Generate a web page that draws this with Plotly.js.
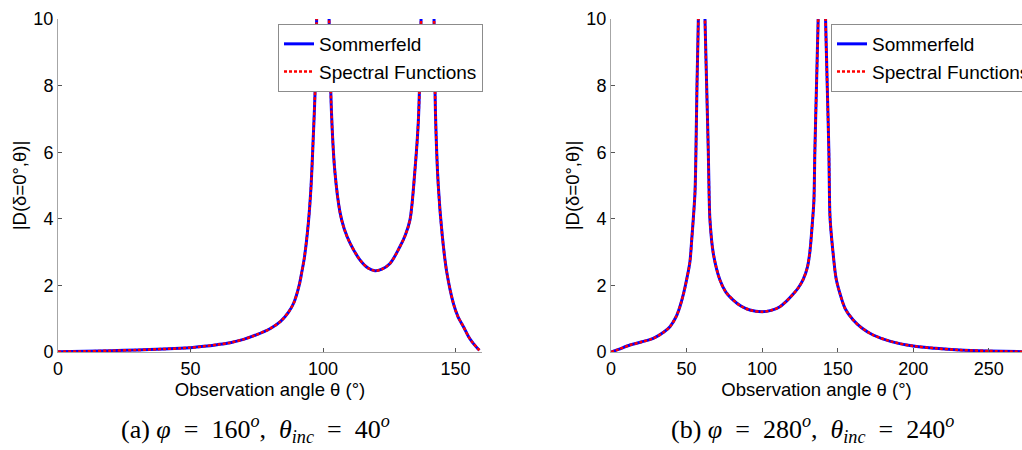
<!DOCTYPE html>
<html>
<head>
<meta charset="utf-8">
<script src="https://cdn.plot.ly/plotly-3.0.1.min.js"></script>
<style>
  html, body { margin: 0; padding: 0; background: #fff; }
  #chart { width: 1022px; height: 450px; }
</style>
</head>
<body>
<div id="chart"></div>
<script>
// ---- Panel (a): phi = 160°, theta_inc = 40° ----
var thetaA = [0, 10, 20, 30, 40, 46, 50, 55, 60, 65, 70, 75, 80, 84, 87, 89, 91, 92, 93, 94.5, 95.5, 96.3, 97, 97.6, 98.3,
              101.7, 102.3, 103.3, 104.5, 106.4, 108, 110.2, 114, 117, 119.6, 122, 125.3, 129, 131, 132.8, 134.7, 136, 137, 137.7,
              141.3, 141.9, 142.5, 143.5, 145, 146.7, 149.2, 151, 153, 155, 156.7, 159];
var sommerfeldA = [0.01, 0.02, 0.04, 0.06, 0.09, 0.11, 0.13, 0.17, 0.22, 0.28, 0.38, 0.52, 0.70, 0.92, 1.2, 1.48, 2.0, 2.4, 2.85, 3.9, 5.0, 6.4, 7.8, 10, 14,
                   14, 10, 7.0, 5.4, 4.2, 3.7, 3.27, 2.76, 2.52, 2.44, 2.48, 2.66, 3.16, 3.5, 3.96, 5.47, 6.97, 10, 14,
                   14, 10, 7.0, 5.0, 3.5, 2.4, 1.46, 1.05, 0.76, 0.45, 0.26, 0.05];
var spectralA = sommerfeldA;

// ---- Panel (b): phi = 280°, theta_inc = 240° ----
var thetaB = [0, 5, 12.6, 20, 28, 35, 39, 43, 45.6, 48, 50, 52.2, 53.4, 54.4, 55.6, 56.2, 56.9, 57.8, 58.5,
              61.5, 62.2, 63.3, 64.4, 65, 65.5, 67.7, 72.1, 76, 80.9, 86, 91.9, 100, 106, 111.8, 116, 120.6, 124, 127.2,
              130, 131.6, 133.4, 134.3, 134.9, 136, 137.1, 137.8,
              141.3, 142, 143.1, 144.2, 144.8, 145.3, 147, 149, 151.5, 155, 160.3, 166, 173.5, 185, 200, 215, 230.8, 250, 272];
var sommerfeldB = [0.0, 0.08, 0.21, 0.3, 0.41, 0.6, 0.76, 1.05, 1.36, 1.75, 2.16, 2.7, 3.36, 3.96, 4.8, 6, 8, 10, 14,
                   14, 10, 8, 6, 4.6, 3.96, 2.96, 2.16, 1.8, 1.56, 1.38, 1.26, 1.21, 1.25, 1.36, 1.52, 1.74, 1.93, 2.18,
                   2.55, 3.0, 3.96, 4.56, 6, 8, 10, 14,
                   14, 10, 8, 6, 4.2, 3.8, 2.96, 2.2, 1.76, 1.3, 0.96, 0.72, 0.51, 0.32, 0.18, 0.11, 0.06, 0.03, 0.01];
var spectralB = sommerfeldB;

var yTicks = [0, 2, 4, 6, 8, 10];
var xTicksA = [0, 50, 100, 150];
var xTicksB = [0, 50, 100, 150, 200, 250];
var seriesNames = ['Sommerfeld', 'Spectral Functions'];
var xTitle = 'Observation angle θ (°)';
var yTitle = '|D(δ=0°,θ)|';
var captionA = '(a) <i>φ</i>&nbsp; = &nbsp;160<sup><i>o</i></sup>, &nbsp;<i>θ<sub>inc</sub></i>&nbsp; = &nbsp;40<sup><i>o</i></sup>';
var captionB = '(b) <i>φ</i>&nbsp; = &nbsp;280<sup><i>o</i></sup>, &nbsp;<i>θ<sub>inc</sub></i>&nbsp; = &nbsp;240<sup><i>o</i></sup>';

var blueLine = {color: '#0000ff', width: 3, dash: 'solid', shape: 'spline', smoothing: 0.9};
var redLine = {color: '#ff0000', width: 2.5, dash: '3px,2px', shape: 'spline', smoothing: 0.9};

var traces = [
  {x: thetaA, y: sommerfeldA, name: seriesNames[0], type: 'scatter', mode: 'lines', line: blueLine, xaxis: 'x', yaxis: 'y', legend: 'legend'},
  {x: thetaA, y: spectralA, name: seriesNames[1], type: 'scatter', mode: 'lines', line: redLine, xaxis: 'x', yaxis: 'y', legend: 'legend'},
  {x: thetaB, y: sommerfeldB, name: seriesNames[0], type: 'scatter', mode: 'lines', line: blueLine, xaxis: 'x2', yaxis: 'y2', legend: 'legend2'},
  {x: thetaB, y: spectralB, name: seriesNames[1], type: 'scatter', mode: 'lines', line: redLine, xaxis: 'x2', yaxis: 'y2', legend: 'legend2'}
];

var tickFont = {family: 'Liberation Sans, Arial, sans-serif', size: 18, color: '#000'};
var titleFont = {family: 'Liberation Sans, Arial, sans-serif', size: 18.5, color: '#000'};

function xAxis(domain, range, ticks) {
  return {
    domain: domain, range: range, tickvals: ticks, ticktext: ticks.map(String),
    showgrid: false, zeroline: false, showline: true, linecolor: '#a6a6a6', linewidth: 1,
    ticks: 'inside', ticklen: 4, tickcolor: '#555', tickwidth: 1, tickfont: tickFont,
    mirror: false, fixedrange: true,
    title: {text: xTitle, font: titleFont, standoff: 0}
  };
}
function yAxis(anchor) {
  return {
    domain: [0, 1], range: [0, 10], tickvals: yTicks, ticktext: yTicks.map(String), anchor: anchor,
    showgrid: false, zeroline: false, showline: true, linecolor: '#a6a6a6', linewidth: 1,
    ticks: 'inside', ticklen: 4, tickcolor: '#555', tickwidth: 1, tickfont: tickFont,
    fixedrange: true,
    title: {text: yTitle, font: titleFont, standoff: 1}
  };
}

var legendCommon = {
  bgcolor: '#ffffff', bordercolor: '#8c8c8c', borderwidth: 1,
  font: {family: 'Liberation Sans, Arial, sans-serif', size: 19, color: '#000'},
  xanchor: 'left', yanchor: 'top', tracegroupgap: 0, itemwidth: 30
};

var layout = {
  width: 1022, height: 450,
  margin: {l: 0, r: 0, t: 19, b: 98, autoexpand: false},
  paper_bgcolor: '#ffffff', plot_bgcolor: '#ffffff',
  showlegend: true,
  xaxis: Object.assign(xAxis([58 / 1022, 482 / 1022], [0, 160], xTicksA), {anchor: 'y'}),
  yaxis: yAxis('x'),
  xaxis2: Object.assign(xAxis([611 / 1022, 1], [0, 272], xTicksB), {anchor: 'y2'}),
  yaxis2: yAxis('x2'),
  legend: Object.assign({x: 278 / 1022, y: 0.985}, legendCommon),
  legend2: Object.assign({x: 831 / 1022, y: 0.985}, legendCommon),
  annotations: [
    {text: captionA, xref: 'paper', yref: 'paper', x: 255 / 1022, y: -(429 - 352) / 333, xanchor: 'center', yanchor: 'middle',
     showarrow: false, font: {family: 'Liberation Serif, DejaVu Serif, serif', size: 26, color: '#000'}},
    {text: captionB, xref: 'paper', yref: 'paper', x: 812 / 1022, y: -(429 - 352) / 333, xanchor: 'center', yanchor: 'middle',
     showarrow: false, font: {family: 'Liberation Serif, DejaVu Serif, serif', size: 26, color: '#000'}}
  ]
};

Plotly.newPlot('chart', traces, layout, {staticPlot: true, displayModeBar: false});
</script>
</body>
</html>
